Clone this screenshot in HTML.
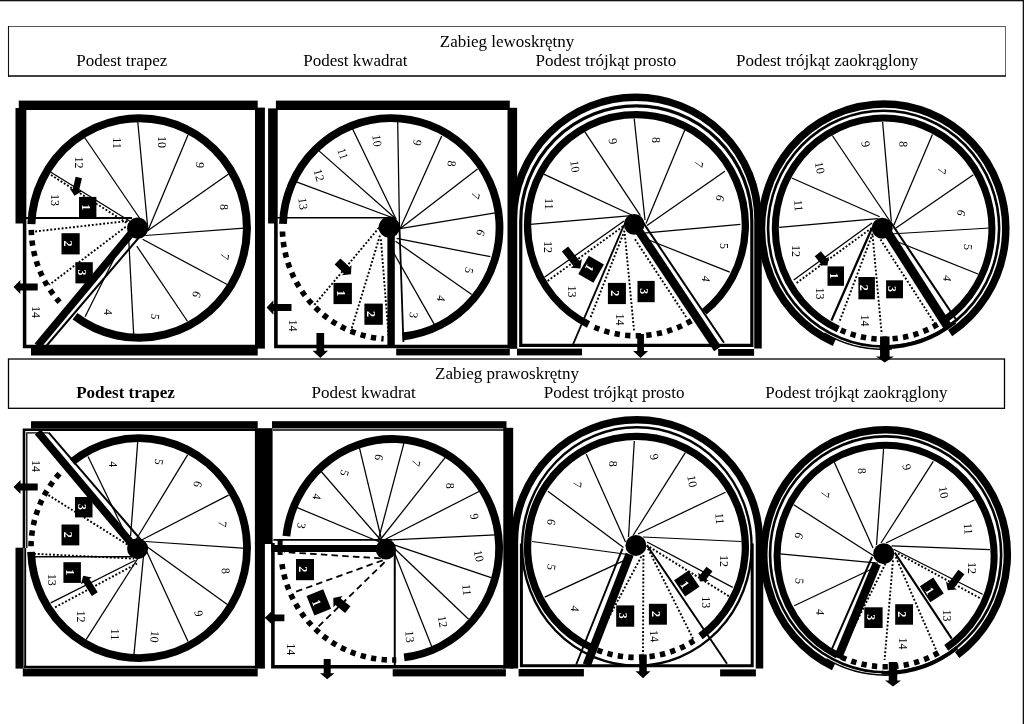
<!DOCTYPE html>
<html><head><meta charset="utf-8"><title>Schody</title>
<style>
html,body{margin:0;padding:0;background:#fff;}
body{width:1024px;height:724px;overflow:hidden;font-family:"Liberation Serif",serif;}
svg{display:block;will-change:transform;}
svg text{font-family:"Liberation Serif",serif;fill:#000;}
</style></head><body>
<svg width="1024" height="724" viewBox="0 0 1024 724">
<rect x="0" y="0" width="1024" height="724" fill="#fff"/>
<rect x="0" y="0" width="1024" height="1.3" fill="#111"/>
<rect x="1022.7" y="0" width="1.3" height="724" fill="#111"/>
<line x1="8" y1="26.5" x2="1006" y2="26.5" stroke="#555" stroke-width="1"/>
<line x1="1005.5" y1="26" x2="1005.5" y2="76" stroke="#666" stroke-width="1"/>
<line x1="8.5" y1="26" x2="8.5" y2="76.5" stroke="#111" stroke-width="1.1"/>
<line x1="8" y1="76" x2="1006" y2="76" stroke="#000" stroke-width="1.3"/>
<rect x="8.5" y="359" width="996" height="49.3" fill="none" stroke="#000" stroke-width="1.3"/>
<text x="439.8" y="47" font-size="17">Zabieg lewoskrętny</text>
<text x="76.2" y="65.5" font-size="17">Podest trapez</text>
<text x="303.2" y="65.5" font-size="17">Podest kwadrat</text>
<text x="535.5" y="65.5" font-size="17">Podest trójkąt prosto</text>
<text x="736" y="65.5" font-size="17">Podest trójkąt zaokrąglony</text>
<text x="435.1" y="379.3" font-size="17">Zabieg prawoskrętny</text>
<text x="76.2" y="397.9" font-size="17" font-weight="bold">Podest trapez</text>
<text x="311.5" y="397.9" font-size="17">Podest kwadrat</text>
<text x="543.7" y="397.9" font-size="17">Podest trójkąt prosto</text>
<text x="765.3" y="397.9" font-size="17">Podest trójkąt zaokrąglony</text>
<path d="M24.6,109 V346.5 H256" fill="none" stroke="#000" stroke-width="3.5"/>
<line x1="83.2" y1="135.5" x2="148" y2="230.5" stroke="#000" stroke-width="1.25"/>
<line x1="137.7" y1="121" x2="148" y2="230.5" stroke="#000" stroke-width="1.25"/>
<line x1="188" y1="134.9" x2="148" y2="230.5" stroke="#000" stroke-width="1.25"/>
<line x1="228.6" y1="174.1" x2="148" y2="230.5" stroke="#000" stroke-width="1.25"/>
<line x1="244.1" y1="228.1" x2="145.5" y2="235.5" stroke="#000" stroke-width="1.25"/>
<line x1="227.7" y1="284.8" x2="142.6" y2="239.3" stroke="#000" stroke-width="1.25"/>
<line x1="187.6" y1="321.5" x2="136.8" y2="246.1" stroke="#000" stroke-width="1.25"/>
<line x1="133.7" y1="335" x2="128.7" y2="239.2" stroke="#000" stroke-width="1.25"/>
<line x1="85.1" y1="316.7" x2="125.8" y2="235.3" stroke="#000" stroke-width="1.25"/>
<line x1="49.3" y1="171.2" x2="132" y2="222.5" stroke="#000" stroke-width="1.25"/>
<line x1="51" y1="175" x2="130" y2="225" stroke="#000" stroke-width="1.9" stroke-dasharray="1.9 1.9"/>
<line x1="24.5" y1="218" x2="132" y2="218" stroke="#000" stroke-width="2"/>
<line x1="127.7" y1="221" x2="35" y2="231.5" stroke="#000" stroke-width="1.9" stroke-dasharray="1.9 1.9"/>
<line x1="125.7" y1="226.8" x2="49.3" y2="284.8" stroke="#000" stroke-width="1.9" stroke-dasharray="1.9 1.9"/>
<path d="M31.37,224.17 A107.8,109.8 0 1 1 74.98,316.26" fill="none" stroke="#000" stroke-width="8"/>
<path d="M31.32,229.92 A107.8,109.8 0 0 0 59.62,302.18" fill="none" stroke="#000" stroke-width="5.6" stroke-dasharray="5.3 5.3"/>
<line x1="134" y1="230" x2="37.5" y2="346" stroke="#000" stroke-width="7.6"/>
<line x1="143.6" y1="232" x2="46.3" y2="346" stroke="#000" stroke-width="2"/>
<circle cx="137.7" cy="228.2" r="10.6" fill="#000"/>
<rect x="18.8" y="100.6" width="238.9" height="9.4" fill="#000"/>
<rect x="15.5" y="108" width="7.8" height="115.5" fill="#000"/>
<rect x="255" y="107.6" width="9.9" height="241" fill="#000"/>
<rect x="31" y="348" width="226.7" height="7.5" fill="#000"/>
<polygon points="75.64,176.66 72.71,189.12 69.79,188.43 74.5,195.7 81.96,191.29 79.04,190.6 81.96,178.14" fill="#000"/>
<g transform="translate(87.7,207.65) rotate(0)"><rect x="-8.7" y="-10.75" width="17.4" height="21.5" fill="#000"/><text transform="translate(-2.2,-0.3) rotate(90)" text-anchor="middle" dy="0.33em" font-size="12" font-weight="bold" style="fill:#fff">1</text></g>
<g transform="translate(70.6,243.8) rotate(0)"><rect x="-9.1" y="-10.6" width="18.2" height="21.2" fill="#000"/><text transform="translate(-2.2,-0.3) rotate(90)" text-anchor="middle" dy="0.33em" font-size="12" font-weight="bold" style="fill:#fff">2</text></g>
<g transform="translate(84.1,272.8) rotate(0)"><rect x="-8.7" y="-10.6" width="17.4" height="21.2" fill="#000"/><text transform="translate(-2.2,-0.3) rotate(90)" text-anchor="middle" dy="0.33em" font-size="12" font-weight="bold" style="fill:#fff">3</text></g>
<polygon points="37.7,283.4 20.3,283.4 20.3,280 13.5,287 20.3,294 20.3,290.6 37.7,290.6" fill="#000"/>
<text transform="translate(35.8,312) rotate(90)" text-anchor="middle" dy="0.33em" font-size="12">14</text>
<text transform="translate(54.7,200) rotate(90)" text-anchor="middle" dy="0.33em" font-size="12">13</text>
<text transform="translate(79,162.5) rotate(90)" text-anchor="middle" dy="0.33em" font-size="12">12</text>
<text transform="translate(117,143) rotate(90)" text-anchor="middle" dy="0.33em" font-size="12">11</text>
<text transform="translate(162,142) rotate(90)" text-anchor="middle" dy="0.33em" font-size="12">10</text>
<text transform="translate(200,165) rotate(95)" text-anchor="middle" dy="0.33em" font-size="12">9</text>
<text transform="translate(224.4,207) rotate(90)" text-anchor="middle" dy="0.33em" font-size="12">8</text>
<text transform="translate(224.8,256.7) rotate(100)" text-anchor="middle" dy="0.33em" font-size="12">7</text>
<text transform="translate(196.7,294.5) rotate(110)" text-anchor="middle" dy="0.33em" font-size="12">6</text>
<text transform="translate(155.1,316.7) rotate(100)" text-anchor="middle" dy="0.33em" font-size="12">5</text>
<text transform="translate(108.3,312) rotate(90)" text-anchor="middle" dy="0.33em" font-size="12">4</text>
<path d="M275.9,109 V346.5 H509" fill="none" stroke="#000" stroke-width="3.6"/>
<line x1="277" y1="217.7" x2="395" y2="217.7" stroke="#000" stroke-width="1.6"/>
<line x1="296.4" y1="181.9" x2="396" y2="219" stroke="#000" stroke-width="1.25"/>
<line x1="319" y1="150.9" x2="396" y2="219" stroke="#000" stroke-width="1.25"/>
<line x1="352.5" y1="128.7" x2="396" y2="219" stroke="#000" stroke-width="1.25"/>
<line x1="397.7" y1="122" x2="399.5" y2="228" stroke="#000" stroke-width="1.25"/>
<line x1="399.5" y1="228" x2="403.4" y2="342" stroke="#000" stroke-width="1.8"/>
<line x1="441.7" y1="136" x2="400" y2="228.7" stroke="#000" stroke-width="1.25"/>
<line x1="477.5" y1="168.9" x2="400" y2="228.7" stroke="#000" stroke-width="1.25"/>
<line x1="495.3" y1="212.8" x2="400" y2="228.7" stroke="#000" stroke-width="1.25"/>
<line x1="490.4" y1="256.7" x2="396.6" y2="238.4" stroke="#000" stroke-width="1.25"/>
<line x1="471.7" y1="294.5" x2="395.6" y2="241.3" stroke="#000" stroke-width="1.25"/>
<line x1="434.3" y1="324.4" x2="393.7" y2="252.9" stroke="#000" stroke-width="1.25"/>
<line x1="379" y1="227.7" x2="314.2" y2="305.1" stroke="#000" stroke-width="1.9" stroke-dasharray="1.9 1.9"/>
<line x1="380" y1="235.5" x2="350.9" y2="331.2" stroke="#000" stroke-width="1.9" stroke-dasharray="1.9 1.9"/>
<line x1="380.9" y1="239.3" x2="388.6" y2="336" stroke="#000" stroke-width="1.9" stroke-dasharray="1.9 1.9"/>
<path d="M282.97,223.78 A108.3,109.5 0 1 1 402.52,336.5" fill="none" stroke="#000" stroke-width="7.8"/>
<path d="M282.47,231.49 A108.8,111.5 0 0 0 383.61,338.83" fill="none" stroke="#000" stroke-width="5.6" stroke-dasharray="5.3 5.3"/>
<rect x="387.4" y="230" width="7.4" height="116" fill="#000"/>
<circle cx="389.3" cy="227.2" r="10.6" fill="#000"/>
<rect x="275.9" y="100.6" width="233.9" height="9.4" fill="#000"/>
<rect x="268.1" y="108.4" width="8.9" height="115.1" fill="#000"/>
<rect x="507.5" y="107.8" width="9.6" height="240.8" fill="#000"/>
<rect x="396.2" y="348.6" width="113.6" height="6.8" fill="#000"/>
<polygon points="291.5,303.9 273.4,303.9 273.4,300.3 266.6,307.5 273.4,314.7 273.4,311.1 291.5,311.1" fill="#000"/>
<polygon points="316.45,333.1 316.45,350.8 312.55,350.8 320.3,358 328.05,350.8 324.15,350.8 324.15,333.1" fill="#000"/>
<polygon points="334.58,264.58 343.72,273.26 341.83,275.25 351,274.3 351.46,265.09 349.57,267.09 340.42,258.42" fill="#000"/>
<g transform="translate(342.7,293.5) rotate(0)"><rect x="-9.2" y="-10.6" width="18.4" height="21.2" fill="#000"/><text transform="translate(-2.2,-0.3) rotate(90)" text-anchor="middle" dy="0.33em" font-size="12" font-weight="bold" style="fill:#fff">1</text></g>
<g transform="translate(373.6,314.2) rotate(0)"><rect x="-9.2" y="-10.6" width="18.4" height="21.2" fill="#000"/><text transform="translate(-2.2,-0.3) rotate(90)" text-anchor="middle" dy="0.33em" font-size="12" font-weight="bold" style="fill:#fff">2</text></g>
<text transform="translate(292.5,325.4) rotate(90)" text-anchor="middle" dy="0.33em" font-size="12">14</text>
<text transform="translate(303,203.7) rotate(82)" text-anchor="middle" dy="0.33em" font-size="12">13</text>
<text transform="translate(319,175.1) rotate(75)" text-anchor="middle" dy="0.33em" font-size="12">12</text>
<text transform="translate(342.8,153.8) rotate(72)" text-anchor="middle" dy="0.33em" font-size="12">11</text>
<text transform="translate(377,140.7) rotate(82)" text-anchor="middle" dy="0.33em" font-size="12">10</text>
<text transform="translate(417.5,142.6) rotate(100)" text-anchor="middle" dy="0.33em" font-size="12">9</text>
<text transform="translate(451.7,163.5) rotate(95)" text-anchor="middle" dy="0.33em" font-size="12">8</text>
<text transform="translate(475.5,196) rotate(105)" text-anchor="middle" dy="0.33em" font-size="12">7</text>
<text transform="translate(480.7,232.6) rotate(110)" text-anchor="middle" dy="0.33em" font-size="12">6</text>
<text transform="translate(469.1,270.3) rotate(105)" text-anchor="middle" dy="0.33em" font-size="12">5</text>
<text transform="translate(441.1,298.3) rotate(100)" text-anchor="middle" dy="0.33em" font-size="12">4</text>
<text transform="translate(413.6,315.2) rotate(100)" text-anchor="middle" dy="0.33em" font-size="12">3</text>
<path d="M513.4,348.6 V219.5 A122.3,122.3 0 0 1 758,219.5 V348.6" fill="none" stroke="#000" stroke-width="7.5"/>
<path d="M520.75,221.45 A115.55,115.55 0 0 1 751.85,221.45 V345.4 H520.75 Z" fill="none" stroke="#000" stroke-width="3.2"/>
<line x1="530.1" y1="224.4" x2="634.2" y2="215.3" stroke="#000" stroke-width="1.25"/>
<line x1="543.7" y1="174.1" x2="632.2" y2="215.3" stroke="#000" stroke-width="1.25"/>
<line x1="584.7" y1="131.6" x2="640.4" y2="215.7" stroke="#000" stroke-width="1.25"/>
<line x1="634.2" y1="118.6" x2="645" y2="220" stroke="#000" stroke-width="1.25"/>
<line x1="684.9" y1="129.7" x2="646" y2="223.5" stroke="#000" stroke-width="1.25"/>
<line x1="724.9" y1="171.2" x2="647" y2="225.4" stroke="#000" stroke-width="1.25"/>
<line x1="740.4" y1="224.3" x2="643.7" y2="233.2" stroke="#000" stroke-width="1.25"/>
<line x1="729.8" y1="272.2" x2="640" y2="236.5" stroke="#000" stroke-width="1.25"/>
<line x1="544.7" y1="277.1" x2="624" y2="221" stroke="#000" stroke-width="1.25"/>
<line x1="547.6" y1="280.9" x2="625" y2="225" stroke="#000" stroke-width="1.9" stroke-dasharray="1.9 1.9"/>
<line x1="624" y1="225" x2="573.2" y2="344" stroke="#000" stroke-width="1.9"/>
<line x1="626" y1="227" x2="590.1" y2="318.6" stroke="#000" stroke-width="1.9" stroke-dasharray="1.9 1.9"/>
<line x1="624.8" y1="234" x2="634.2" y2="332.2" stroke="#000" stroke-width="1.9" stroke-dasharray="1.9 1.9"/>
<line x1="635" y1="239.3" x2="687.2" y2="318.6" stroke="#000" stroke-width="1.9" stroke-dasharray="1.9 1.9"/>
<path d="M588.54,324.52 A108.9,110.6 0 1 1 704.24,311.76" fill="none" stroke="#000" stroke-width="7.3"/>
<path d="M594.42,327.23 A108.9,110.6 0 0 0 696.56,317.43" fill="none" stroke="#000" stroke-width="5.6" stroke-dasharray="5.3 5.3"/>
<line x1="638" y1="229.5" x2="717.6" y2="348.8" stroke="#000" stroke-width="8.5"/>
<line x1="641" y1="219.4" x2="724" y2="342.8" stroke="#000" stroke-width="2"/>
<circle cx="634.2" cy="224.3" r="10.4" fill="#000"/>
<rect x="517" y="348.6" width="65" height="6.8" fill="#000"/>
<rect x="718.2" y="349" width="35.9" height="6.8" fill="#000"/>
<polygon points="561.87,251.49 573.23,265.8 570.88,267.66 580.4,268.4 581.84,258.96 579.49,260.82 568.13,246.51" fill="#000"/>
<g transform="translate(591.1,269.3) rotate(30)"><rect x="-8.75" y="-10.5" width="17.5" height="21" fill="#000"/><text transform="translate(-2.2,-0.3) rotate(90)" text-anchor="middle" dy="0.33em" font-size="12" font-weight="bold" style="fill:#fff">1</text></g>
<g transform="translate(616.9,293.5) rotate(0)"><rect x="-9" y="-10.6" width="18" height="21.2" fill="#000"/><text transform="translate(-2.2,-0.3) rotate(90)" text-anchor="middle" dy="0.33em" font-size="12" font-weight="bold" style="fill:#fff">2</text></g>
<g transform="translate(646.1,291.55) rotate(0)"><rect x="-8.6" y="-10.65" width="17.2" height="21.3" fill="#000"/><text transform="translate(-2.2,-0.3) rotate(90)" text-anchor="middle" dy="0.33em" font-size="12" font-weight="bold" style="fill:#fff">3</text></g>
<polygon points="637.25,334 637.25,351 633.1,351 640.6,358 648.1,351 643.95,351 643.95,334" fill="#000"/>
<text transform="translate(547.6,247.1) rotate(90)" text-anchor="middle" dy="0.33em" font-size="12">12</text>
<text transform="translate(571.7,291.6) rotate(90)" text-anchor="middle" dy="0.33em" font-size="12">13</text>
<text transform="translate(619.5,319.6) rotate(90)" text-anchor="middle" dy="0.33em" font-size="12">14</text>
<text transform="translate(549.1,203.7) rotate(90)" text-anchor="middle" dy="0.33em" font-size="12">11</text>
<text transform="translate(575,166.4) rotate(82)" text-anchor="middle" dy="0.33em" font-size="12">10</text>
<text transform="translate(612.9,141.3) rotate(80)" text-anchor="middle" dy="0.33em" font-size="12">9</text>
<text transform="translate(656.3,139.9) rotate(90)" text-anchor="middle" dy="0.33em" font-size="12">8</text>
<text transform="translate(698.8,164.5) rotate(100)" text-anchor="middle" dy="0.33em" font-size="12">7</text>
<text transform="translate(720.1,198.3) rotate(110)" text-anchor="middle" dy="0.33em" font-size="12">6</text>
<text transform="translate(724,246.1) rotate(90)" text-anchor="middle" dy="0.33em" font-size="12">5</text>
<text transform="translate(706.2,279) rotate(100)" text-anchor="middle" dy="0.33em" font-size="12">4</text>
<path d="M834.31,342.6 A122.15,124.6 0 1 1 950.13,333.1" fill="none" stroke="#000" stroke-width="7.5"/>
<ellipse cx="883.6" cy="228.6" rx="115.55" ry="117.9" fill="none" stroke="#000" stroke-width="2.6"/>
<path d="M879.55,347.03 A116.1,118.5 0 0 0 955.08,321.98" fill="none" stroke="#000" stroke-width="3.8"/>
<path d="M824.35,333.22 A118.5,120.8 0 0 0 891.87,349.11" fill="none" stroke="#000" stroke-width="1.5"/>
<line x1="779.1" y1="227.3" x2="877.8" y2="218.6" stroke="#000" stroke-width="1.25"/>
<line x1="791.7" y1="178" x2="879.7" y2="216.7" stroke="#000" stroke-width="1.25"/>
<line x1="832.3" y1="135.5" x2="890.5" y2="222" stroke="#000" stroke-width="1.25"/>
<line x1="890.5" y1="222" x2="957" y2="321" stroke="#000" stroke-width="2.1"/>
<line x1="882.6" y1="121.9" x2="891.3" y2="221.5" stroke="#000" stroke-width="1.25"/>
<line x1="932.4" y1="134.5" x2="893.7" y2="225.4" stroke="#000" stroke-width="1.25"/>
<line x1="973.4" y1="174.7" x2="895.6" y2="228.3" stroke="#000" stroke-width="1.25"/>
<line x1="990" y1="228" x2="890" y2="234" stroke="#000" stroke-width="1.25"/>
<line x1="978" y1="274" x2="893" y2="240" stroke="#000" stroke-width="1.25"/>
<line x1="793.7" y1="280" x2="872" y2="223" stroke="#000" stroke-width="1.25"/>
<line x1="796.6" y1="282.9" x2="873" y2="227" stroke="#000" stroke-width="1.9" stroke-dasharray="1.9 1.9"/>
<line x1="872" y1="228" x2="831.4" y2="320.6" stroke="#000" stroke-width="2.3"/>
<line x1="874" y1="230" x2="839.1" y2="322.5" stroke="#000" stroke-width="1.9" stroke-dasharray="1.9 1.9"/>
<line x1="872.6" y1="235.5" x2="881.7" y2="334.1" stroke="#000" stroke-width="1.9" stroke-dasharray="1.9 1.9"/>
<line x1="880.5" y1="239.5" x2="935.5" y2="324.5" stroke="#000" stroke-width="1.9" stroke-dasharray="1.9 1.9"/>
<path d="M838.34,329.08 A108.3,110.6 0 1 1 945.72,319.2" fill="none" stroke="#000" stroke-width="7"/>
<path d="M840.76,330.18 A108.3,110.6 0 0 0 937.75,324.38" fill="none" stroke="#000" stroke-width="5.6" stroke-dasharray="5.3 5.3"/>
<line x1="886.6" y1="231" x2="947.3" y2="326" stroke="#000" stroke-width="9"/>
<circle cx="882.2" cy="228.2" r="10.5" fill="#000"/>
<polygon points="814.72,256.35 820.59,263.43 818.47,265.19 827.5,265.5 828.87,256.57 826.75,258.33 820.88,251.25" fill="#000"/>
<g transform="translate(835.75,276.1) rotate(0)"><rect x="-8.25" y="-9.7" width="16.5" height="19.4" fill="#000"/><text transform="translate(-2.2,-0.3) rotate(90)" text-anchor="middle" dy="0.33em" font-size="12" font-weight="bold" style="fill:#fff">1</text></g>
<g transform="translate(866.65,288.15) rotate(0)"><rect x="-8.25" y="-11.15" width="16.5" height="22.3" fill="#000"/><text transform="translate(-2.2,-0.3) rotate(90)" text-anchor="middle" dy="0.33em" font-size="12" font-weight="bold" style="fill:#fff">2</text></g>
<g transform="translate(894.55,289.3) rotate(0)"><rect x="-8.45" y="-9" width="16.9" height="18" fill="#000"/><text transform="translate(-2.2,-0.3) rotate(90)" text-anchor="middle" dy="0.33em" font-size="12" font-weight="bold" style="fill:#fff">3</text></g>
<polygon points="880.05,336.6 880.05,356.5 875.8,356.5 884.8,362.5 893.8,356.5 889.55,356.5 889.55,336.6" fill="#000"/>
<text transform="translate(795.6,251) rotate(90)" text-anchor="middle" dy="0.33em" font-size="12">12</text>
<text transform="translate(819.8,293.5) rotate(90)" text-anchor="middle" dy="0.33em" font-size="12">13</text>
<text transform="translate(865.2,320.6) rotate(90)" text-anchor="middle" dy="0.33em" font-size="12">14</text>
<text transform="translate(798.5,205.7) rotate(85)" text-anchor="middle" dy="0.33em" font-size="12">11</text>
<text transform="translate(819.8,167.8) rotate(80)" text-anchor="middle" dy="0.33em" font-size="12">10</text>
<text transform="translate(865.8,144.2) rotate(78)" text-anchor="middle" dy="0.33em" font-size="12">9</text>
<text transform="translate(903.3,144.2) rotate(92)" text-anchor="middle" dy="0.33em" font-size="12">8</text>
<text transform="translate(942,171.2) rotate(100)" text-anchor="middle" dy="0.33em" font-size="12">7</text>
<text transform="translate(961.4,212.8) rotate(105)" text-anchor="middle" dy="0.33em" font-size="12">6</text>
<text transform="translate(968,247) rotate(95)" text-anchor="middle" dy="0.33em" font-size="12">5</text>
<text transform="translate(947.5,278.5) rotate(100)" text-anchor="middle" dy="0.33em" font-size="12">4</text>
<path d="M25.2,668 V548" fill="none" stroke="#000" stroke-width="1.9"/>
<path d="M24,548 V429.7 H256" fill="none" stroke="#000" stroke-width="2.6"/>
<path d="M26.8,548 V432.8 H48.5" fill="none" stroke="#000" stroke-width="1.3"/>
<line x1="24" y1="666.9" x2="256" y2="666.9" stroke="#000" stroke-width="2.2"/>
<line x1="88" y1="456.4" x2="125" y2="533" stroke="#000" stroke-width="1.25"/>
<line x1="137.7" y1="441.9" x2="130.6" y2="536" stroke="#000" stroke-width="1.25"/>
<line x1="187.6" y1="454.9" x2="135.8" y2="540" stroke="#000" stroke-width="1.25"/>
<line x1="228.6" y1="495.1" x2="139.7" y2="541" stroke="#000" stroke-width="1.25"/>
<line x1="246" y1="548.3" x2="145.5" y2="541.5" stroke="#000" stroke-width="1.25"/>
<line x1="227.7" y1="604.8" x2="146" y2="546" stroke="#000" stroke-width="1.25"/>
<line x1="188" y1="641.5" x2="146" y2="550" stroke="#000" stroke-width="1.25"/>
<line x1="133.9" y1="655.1" x2="143.5" y2="556" stroke="#000" stroke-width="1.25"/>
<line x1="86.1" y1="639.6" x2="140" y2="555" stroke="#000" stroke-width="1.25"/>
<line x1="50.7" y1="602.9" x2="135.4" y2="560.3" stroke="#000" stroke-width="1.25"/>
<line x1="55.1" y1="607.3" x2="137" y2="563.5" stroke="#000" stroke-width="1.9" stroke-dasharray="1.9 1.9"/>
<line x1="33.8" y1="556.8" x2="132" y2="556.8" stroke="#000" stroke-width="1.6"/>
<line x1="34" y1="553.8" x2="134" y2="558.6" stroke="#000" stroke-width="1.9" stroke-dasharray="1.9 1.9"/>
<line x1="48.4" y1="495.1" x2="128" y2="545" stroke="#000" stroke-width="1.9" stroke-dasharray="1.9 1.9"/>
<path d="M72.06,461.82 A108,110 0 1 1 31.07,551.99" fill="none" stroke="#000" stroke-width="7.8"/>
<path d="M31.02,546.23 A108,110 0 0 1 60.66,472.43" fill="none" stroke="#000" stroke-width="5.6" stroke-dasharray="5.3 5.3"/>
<line x1="134.5" y1="547" x2="37.8" y2="432" stroke="#000" stroke-width="7.8"/>
<line x1="141" y1="540" x2="48.7" y2="432.7" stroke="#000" stroke-width="2"/>
<circle cx="137.6" cy="548.7" r="10.5" fill="#000"/>
<rect x="31" y="421.2" width="226.7" height="7.4" fill="#000"/>
<rect x="15.5" y="547.7" width="8.1" height="120.9" fill="#000"/>
<rect x="254.9" y="428.2" width="17.7" height="115.8" fill="#000"/>
<rect x="254.9" y="543" width="10" height="125.6" fill="#000"/>
<rect x="22.8" y="668.4" width="234.9" height="8" fill="#000"/>
<polygon points="37.7,483.5 20.5,483.5 20.5,480 13.5,487 20.5,494 20.5,490.5 37.7,490.5" fill="#000"/>
<polygon points="97.76,592.33 89.36,579.01 91.9,577.41 83.2,575.8 80.9,584.34 83.44,582.74 91.84,596.07" fill="#000"/>
<g transform="translate(83.75,507.2) rotate(0)"><rect x="-8.75" y="-10.2" width="17.5" height="20.4" fill="#000"/><text transform="translate(-2.2,-0.3) rotate(90)" text-anchor="middle" dy="0.33em" font-size="12" font-weight="bold" style="fill:#fff">3</text></g>
<g transform="translate(70.4,534.95) rotate(0)"><rect x="-8.9" y="-10.45" width="17.8" height="20.9" fill="#000"/><text transform="translate(-2.2,-0.3) rotate(90)" text-anchor="middle" dy="0.33em" font-size="12" font-weight="bold" style="fill:#fff">2</text></g>
<g transform="translate(72.15,572.55) rotate(0)"><rect x="-8.75" y="-10.35" width="17.5" height="20.7" fill="#000"/><text transform="translate(-2.2,-0.3) rotate(90)" text-anchor="middle" dy="0.33em" font-size="12" font-weight="bold" style="fill:#fff">1</text></g>
<text transform="translate(35.8,466.1) rotate(90)" text-anchor="middle" dy="0.33em" font-size="12">14</text>
<text transform="translate(113.2,464.2) rotate(90)" text-anchor="middle" dy="0.33em" font-size="12">4</text>
<text transform="translate(159,461.8) rotate(100)" text-anchor="middle" dy="0.33em" font-size="12">5</text>
<text transform="translate(197.7,484.1) rotate(105)" text-anchor="middle" dy="0.33em" font-size="12">6</text>
<text transform="translate(222.5,524.1) rotate(95)" text-anchor="middle" dy="0.33em" font-size="12">7</text>
<text transform="translate(225.7,570.9) rotate(85)" text-anchor="middle" dy="0.33em" font-size="12">8</text>
<text transform="translate(198.7,613.5) rotate(80)" text-anchor="middle" dy="0.33em" font-size="12">9</text>
<text transform="translate(154.8,636.7) rotate(95)" text-anchor="middle" dy="0.33em" font-size="12">10</text>
<text transform="translate(114.5,634.4) rotate(90)" text-anchor="middle" dy="0.33em" font-size="12">11</text>
<text transform="translate(80.9,616.4) rotate(90)" text-anchor="middle" dy="0.33em" font-size="12">12</text>
<text transform="translate(51.8,579.7) rotate(90)" text-anchor="middle" dy="0.33em" font-size="12">13</text>
<path d="M272.9,543 V666.7 H505" fill="none" stroke="#000" stroke-width="3.6"/>
<path d="M273,430 H505 V667" fill="none" stroke="#000" stroke-width="1.6"/>
<line x1="296" y1="507.1" x2="382" y2="543" stroke="#000" stroke-width="1.25"/>
<line x1="321.2" y1="471.5" x2="382" y2="541.5" stroke="#000" stroke-width="1.25"/>
<line x1="359.4" y1="447.7" x2="382" y2="541.5" stroke="#000" stroke-width="1.25"/>
<line x1="404" y1="442.9" x2="378" y2="541" stroke="#000" stroke-width="1.25"/>
<line x1="445.3" y1="457.4" x2="380" y2="540" stroke="#000" stroke-width="1.25"/>
<line x1="479.4" y1="491.2" x2="384" y2="540" stroke="#000" stroke-width="1.25"/>
<line x1="273.4" y1="539.8" x2="392" y2="539.8" stroke="#000" stroke-width="1.8"/>
<line x1="392" y1="539.8" x2="495.3" y2="534.8" stroke="#000" stroke-width="1.25"/>
<line x1="491" y1="577.7" x2="394" y2="544.8" stroke="#000" stroke-width="1.25"/>
<line x1="468.6" y1="619.3" x2="395" y2="549" stroke="#000" stroke-width="1.25"/>
<line x1="431.8" y1="646.8" x2="395" y2="554" stroke="#000" stroke-width="1.25"/>
<line x1="394.75" y1="550" x2="394.75" y2="666" stroke="#000" stroke-width="2"/>
<line x1="380.7" y1="558.4" x2="284" y2="552" stroke="#000" stroke-width="1.8" stroke-dasharray="6.5 4.2"/>
<line x1="382.7" y1="560.3" x2="291.8" y2="593.2" stroke="#000" stroke-width="1.8" stroke-dasharray="6.5 4.2"/>
<line x1="384.6" y1="562.2" x2="315.9" y2="629" stroke="#000" stroke-width="1.8" stroke-dasharray="6.5 4.2"/>
<path d="M286.39,536.1 A106.7,109.5 0 1 1 404.11,657.34" fill="none" stroke="#000" stroke-width="7.8"/>
<line x1="280.1" y1="539" x2="280.1" y2="555" stroke="#000" stroke-width="5"/>
<path d="M281.99,564.02 A111.5,111.5 0 0 0 396.29,659.93" fill="none" stroke="#000" stroke-width="5.6" stroke-dasharray="5.3 5.3"/>
<rect x="271.4" y="545" width="110.6" height="7" fill="#000"/>
<circle cx="385.9" cy="549.2" r="10.2" fill="#000"/>
<rect x="272" y="421.2" width="234.5" height="7.2" fill="#000"/>
<rect x="503.3" y="427.8" width="9.9" height="240.8" fill="#000"/>
<rect x="392.7" y="669.2" width="113.2" height="7.2" fill="#000"/>
<g transform="translate(305,569.6) rotate(0)"><rect x="-9" y="-10.6" width="18" height="21.2" fill="#000"/><text transform="translate(-2.2,-0.3) rotate(90)" text-anchor="middle" dy="0.33em" font-size="12" font-weight="bold" style="fill:#fff">2</text></g>
<g transform="translate(318.8,602.3) rotate(-22)"><rect x="-9" y="-10.5" width="18" height="21" fill="#000"/><text transform="translate(-2.2,-0.3) rotate(90)" text-anchor="middle" dy="0.33em" font-size="12" font-weight="bold" style="fill:#fff">1</text></g>
<polygon points="350.45,606.28 340.64,598.43 342.51,596.09 333.3,598 333.46,607.41 335.33,605.07 345.15,612.92" fill="#000"/>
<polygon points="284.4,614.45 271.7,614.45 271.7,611.3 264.7,617.8 271.7,624.3 271.7,621.15 284.4,621.15" fill="#000"/>
<polygon points="323.7,659 323.7,673.3 319.95,673.3 327.2,679.3 334.45,673.3 330.7,673.3 330.7,659" fill="#000"/>
<text transform="translate(290.8,649.3) rotate(90)" text-anchor="middle" dy="0.33em" font-size="12">14</text>
<text transform="translate(301.4,525.7) rotate(100)" text-anchor="middle" dy="0.33em" font-size="12">3</text>
<text transform="translate(316.9,496.7) rotate(100)" text-anchor="middle" dy="0.33em" font-size="12">4</text>
<text transform="translate(344.6,472.9) rotate(105)" text-anchor="middle" dy="0.33em" font-size="12">5</text>
<text transform="translate(378.8,457.4) rotate(100)" text-anchor="middle" dy="0.33em" font-size="12">6</text>
<text transform="translate(416,463.2) rotate(105)" text-anchor="middle" dy="0.33em" font-size="12">7</text>
<text transform="translate(449.8,485.8) rotate(90)" text-anchor="middle" dy="0.33em" font-size="12">8</text>
<text transform="translate(474.4,516.4) rotate(80)" text-anchor="middle" dy="0.33em" font-size="12">9</text>
<text transform="translate(478.8,555.9) rotate(80)" text-anchor="middle" dy="0.33em" font-size="12">10</text>
<text transform="translate(466.6,589.9) rotate(85)" text-anchor="middle" dy="0.33em" font-size="12">11</text>
<text transform="translate(442.6,621.6) rotate(80)" text-anchor="middle" dy="0.33em" font-size="12">12</text>
<text transform="translate(409.8,636.7) rotate(85)" text-anchor="middle" dy="0.33em" font-size="12">13</text>
<path d="M514.4,668.6 V542 A122.55,122.3 0 0 1 759.5,542 V668.6" fill="none" stroke="#000" stroke-width="7.5"/>
<path d="M521.4,543.5 V665.8 H752.2 V543.5" fill="none" stroke="#000" stroke-width="3"/>
<ellipse cx="636.85" cy="546.5" rx="114.75" ry="119.2" fill="none" stroke="#000" stroke-width="2.4"/>
<line x1="634.3" y1="441" x2="628.5" y2="537" stroke="#000" stroke-width="1.25"/>
<line x1="586.2" y1="454.1" x2="625.5" y2="542" stroke="#000" stroke-width="1.25"/>
<line x1="547.9" y1="491.2" x2="623.5" y2="547.5" stroke="#000" stroke-width="1.25"/>
<line x1="532.1" y1="541.5" x2="628" y2="554.5" stroke="#000" stroke-width="1.25"/>
<line x1="544.7" y1="597.1" x2="628.8" y2="558.4" stroke="#000" stroke-width="1.25"/>
<line x1="685.3" y1="452.6" x2="633" y2="535.5" stroke="#000" stroke-width="1.25"/>
<line x1="725.5" y1="492.2" x2="638" y2="534" stroke="#000" stroke-width="1.25"/>
<line x1="741.4" y1="541.5" x2="643" y2="537" stroke="#000" stroke-width="1.25"/>
<line x1="732.7" y1="587.4" x2="647" y2="542" stroke="#000" stroke-width="1.25"/>
<line x1="728.8" y1="596.1" x2="647" y2="545.5" stroke="#000" stroke-width="1.9" stroke-dasharray="1.9 1.9"/>
<line x1="647" y1="545.4" x2="727" y2="663.8" stroke="#000" stroke-width="1.9"/>
<line x1="648" y1="548.7" x2="693" y2="638.6" stroke="#000" stroke-width="1.9" stroke-dasharray="1.9 1.9"/>
<line x1="643.4" y1="555" x2="643" y2="654" stroke="#000" stroke-width="1.9" stroke-dasharray="1.9 1.9"/>
<line x1="641.4" y1="556.4" x2="592" y2="649" stroke="#000" stroke-width="1.9" stroke-dasharray="1.9 1.9"/>
<path d="M590.43,647.05 A108.9,110.5 0 1 1 700.46,636.3" fill="none" stroke="#000" stroke-width="7.3"/>
<path d="M597.42,650.06 A108.9,110.5 0 0 0 694.16,640.61" fill="none" stroke="#000" stroke-width="5.6" stroke-dasharray="5.3 5.3"/>
<line x1="629.7" y1="554.2" x2="586.8" y2="665" stroke="#000" stroke-width="8.5"/>
<line x1="622.5" y1="548.7" x2="576.2" y2="664.5" stroke="#000" stroke-width="1.9"/>
<circle cx="635.9" cy="545.4" r="10.5" fill="#000"/>
<rect x="518.6" y="669" width="65.3" height="7.4" fill="#000"/>
<rect x="720.1" y="669.4" width="35.8" height="7" fill="#000"/>
<g transform="translate(686.8,583.5) rotate(-34)"><rect x="-8.7" y="-9.8" width="17.4" height="19.6" fill="#000"/><text transform="translate(-2.2,-0.3) rotate(90)" text-anchor="middle" dy="0.33em" font-size="12" font-weight="bold" style="fill:#fff">1</text></g>
<polygon points="706.53,566.71 700.49,574.56 698.11,572.73 699.8,581.6 708.81,580.96 706.43,579.13 712.47,571.29" fill="#000"/>
<g transform="translate(657.9,614.25) rotate(0)"><rect x="-9" y="-10.45" width="18" height="20.9" fill="#000"/><text transform="translate(-2.2,-0.3) rotate(90)" text-anchor="middle" dy="0.33em" font-size="12" font-weight="bold" style="fill:#fff">2</text></g>
<g transform="translate(625.2,616.05) rotate(0)"><rect x="-9" y="-10.65" width="18" height="21.3" fill="#000"/><text transform="translate(-2.2,-0.3) rotate(90)" text-anchor="middle" dy="0.33em" font-size="12" font-weight="bold" style="fill:#fff">3</text></g>
<polygon points="639.25,654.5 639.25,671.3 635.5,671.3 643,678.3 650.5,671.3 646.75,671.3 646.75,654.5" fill="#000"/>
<text transform="translate(613.3,463.8) rotate(90)" text-anchor="middle" dy="0.33em" font-size="12">8</text>
<text transform="translate(577.5,484.5) rotate(95)" text-anchor="middle" dy="0.33em" font-size="12">7</text>
<text transform="translate(551.4,522.2) rotate(100)" text-anchor="middle" dy="0.33em" font-size="12">6</text>
<text transform="translate(551.4,567.1) rotate(100)" text-anchor="middle" dy="0.33em" font-size="12">5</text>
<text transform="translate(575,608.7) rotate(95)" text-anchor="middle" dy="0.33em" font-size="12">4</text>
<text transform="translate(654.3,456.8) rotate(75)" text-anchor="middle" dy="0.33em" font-size="12">9</text>
<text transform="translate(692.1,481.2) rotate(80)" text-anchor="middle" dy="0.33em" font-size="12">10</text>
<text transform="translate(719.7,518.7) rotate(85)" text-anchor="middle" dy="0.33em" font-size="12">11</text>
<text transform="translate(724,560.9) rotate(90)" text-anchor="middle" dy="0.33em" font-size="12">12</text>
<text transform="translate(705.6,602.3) rotate(90)" text-anchor="middle" dy="0.33em" font-size="12">13</text>
<text transform="translate(654.3,636.1) rotate(85)" text-anchor="middle" dy="0.33em" font-size="12">14</text>
<path d="M833.57,666.95 A121.75,124.6 0 1 1 957.16,655.1" fill="none" stroke="#000" stroke-width="7.4"/>
<ellipse cx="885.6" cy="554.3" rx="115.55" ry="117.9" fill="none" stroke="#000" stroke-width="2.6"/>
<path d="M881.55,672.73 A116.1,118.5 0 0 0 957.08,647.68" fill="none" stroke="#000" stroke-width="3.8"/>
<path d="M826.35,658.92 A118.5,120.8 0 0 0 893.87,674.81" fill="none" stroke="#000" stroke-width="1.5"/>
<line x1="883.6" y1="448.7" x2="876.5" y2="545" stroke="#000" stroke-width="1.25"/>
<line x1="834.3" y1="462.2" x2="873" y2="548" stroke="#000" stroke-width="1.25"/>
<line x1="793.7" y1="504.8" x2="874" y2="556" stroke="#000" stroke-width="1.25"/>
<line x1="780.1" y1="553.9" x2="877.8" y2="563.2" stroke="#000" stroke-width="1.25"/>
<line x1="794.2" y1="605.8" x2="873.9" y2="568" stroke="#000" stroke-width="1.25"/>
<line x1="933.3" y1="461.3" x2="881" y2="543" stroke="#000" stroke-width="1.25"/>
<line x1="974.5" y1="499.9" x2="886" y2="543" stroke="#000" stroke-width="1.25"/>
<line x1="990" y1="549.7" x2="891.7" y2="545.8" stroke="#000" stroke-width="1.25"/>
<line x1="982.6" y1="594.2" x2="893.6" y2="549.3" stroke="#000" stroke-width="1.25"/>
<line x1="979.7" y1="598" x2="897" y2="553" stroke="#000" stroke-width="1.9" stroke-dasharray="1.9 1.9"/>
<line x1="894.7" y1="552.6" x2="951.7" y2="638.6" stroke="#000" stroke-width="2.1"/>
<line x1="895.8" y1="557" x2="936.2" y2="650.2" stroke="#000" stroke-width="1.9" stroke-dasharray="1.9 1.9"/>
<line x1="893" y1="560.3" x2="884.6" y2="660" stroke="#000" stroke-width="1.9" stroke-dasharray="1.9 1.9"/>
<line x1="885.5" y1="563.6" x2="840" y2="655" stroke="#000" stroke-width="1.9" stroke-dasharray="1.9 1.9"/>
<path d="M837.19,655.11 A108.5,110.75 0 1 1 946.27,647.82" fill="none" stroke="#000" stroke-width="7"/>
<path d="M841.47,657.18 A108.5,110.75 0 0 0 940.67,651.43" fill="none" stroke="#000" stroke-width="5.6" stroke-dasharray="5.3 5.3"/>
<line x1="876.8" y1="563.6" x2="837.8" y2="658" stroke="#000" stroke-width="8.5"/>
<line x1="872.1" y1="557" x2="831.4" y2="650.2" stroke="#000" stroke-width="1.9"/>
<circle cx="883.7" cy="553.7" r="10.5" fill="#000"/>
<g transform="translate(931.8,589.9) rotate(-33)"><rect x="-8" y="-9.6" width="16" height="19.2" fill="#000"/><text transform="translate(-2.2,-0.3) rotate(90)" text-anchor="middle" dy="0.33em" font-size="12" font-weight="bold" style="fill:#fff">1</text></g>
<polygon points="958.38,569.67 948.35,583.25 945.94,581.46 947.8,590.3 956.79,589.49 954.38,587.7 964.42,574.13" fill="#000"/>
<g transform="translate(904.1,614.45) rotate(0)"><rect x="-8.9" y="-10.25" width="17.8" height="20.5" fill="#000"/><text transform="translate(-2.2,-0.3) rotate(90)" text-anchor="middle" dy="0.33em" font-size="12" font-weight="bold" style="fill:#fff">2</text></g>
<g transform="translate(873.45,617.65) rotate(0)"><rect x="-9.15" y="-10.35" width="18.3" height="20.7" fill="#000"/><text transform="translate(-2.2,-0.3) rotate(90)" text-anchor="middle" dy="0.33em" font-size="12" font-weight="bold" style="fill:#fff">3</text></g>
<polygon points="888.75,662 888.75,680.5 885,680.5 893,686.5 901,680.5 897.25,680.5 897.25,662" fill="#000"/>
<text transform="translate(861.9,470.9) rotate(85)" text-anchor="middle" dy="0.33em" font-size="12">8</text>
<text transform="translate(825.2,494.7) rotate(100)" text-anchor="middle" dy="0.33em" font-size="12">7</text>
<text transform="translate(798.9,535.7) rotate(110)" text-anchor="middle" dy="0.33em" font-size="12">6</text>
<text transform="translate(799.5,581.2) rotate(95)" text-anchor="middle" dy="0.33em" font-size="12">5</text>
<text transform="translate(820.2,612.1) rotate(95)" text-anchor="middle" dy="0.33em" font-size="12">4</text>
<text transform="translate(906.8,467.1) rotate(75)" text-anchor="middle" dy="0.33em" font-size="12">9</text>
<text transform="translate(943.6,492.2) rotate(80)" text-anchor="middle" dy="0.33em" font-size="12">10</text>
<text transform="translate(968.1,529) rotate(85)" text-anchor="middle" dy="0.33em" font-size="12">11</text>
<text transform="translate(972,568) rotate(90)" text-anchor="middle" dy="0.33em" font-size="12">12</text>
<text transform="translate(947.4,615.4) rotate(90)" text-anchor="middle" dy="0.33em" font-size="12">13</text>
<text transform="translate(903.3,643.5) rotate(90)" text-anchor="middle" dy="0.33em" font-size="12">14</text>
</svg>
</body></html>
